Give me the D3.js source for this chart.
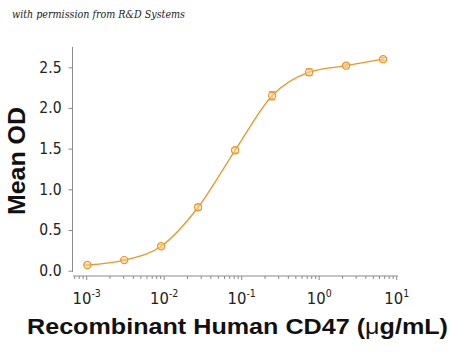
<!DOCTYPE html>
<html>
<head>
<meta charset="utf-8">
<script src="https://cdn.jsdelivr.net/npm/d3@7"></script>
<style>
  body { margin: 0; background: #fff; }
  svg { display: block; }
</style>
</head>
<body>
<div id="chart"></div>
<script>
'use strict';

// Data: concentration (ug/mL), mean OD, error (+/-)
var conc = [0.00102, 0.00305, 0.00914, 0.0274, 0.0823, 0.247, 0.741, 2.22, 6.67]
var meanOD = [0.07, 0.13, 0.30, 0.78, 1.48, 2.15, 2.44, 2.52, 2.60]
var errOD = [0.01, 0.01, 0.02, 0.03, 0.03, 0.05, 0.04, 0.02, 0.02]
var yTicks = [0, 0.5, 1.0, 1.5, 2.0, 2.5]
var xTicks = [1e-3, 1e-2, 1e-1, 1e0, 1e1]
var xTickExp = ['-3', '-2', '-1', '0', '1']

var width = 450, height = 354
var color = '#E8982A'
var axisColor = '#8a8a8a'
var tickFont = '"Liberation Sans Narrow", "DejaVu Sans Condensed", sans-serif'

var data = conc.map(function(c, i) {
  return {conc: c, od: meanOD[i], err: errOD[i]}
})

// Setup: scales
var x = d3.scaleLog()
  .domain([1e-3, 10])
  .range([86.7, 396.7])

var y = d3.scaleLinear()
  .domain([0, 2.5])
  .range([270.7, 67.3])

var svg = d3.select('#chart').append('svg')
  .attr('width', width)
  .attr('height', height)

// Watermark
svg.append('text')
  .attr('x', 12)
  .attr('y', 18)
  .attr('font-family', '"DejaVu Serif", serif')
  .attr('font-style', 'italic')
  .attr('font-size', 10.5)
  .attr('textLength', 173)
  .attr('lengthAdjust', 'spacingAndGlyphs')
  .attr('fill', '#222')
  .text('with permission from R&D Systems')

// Y axis
var yAxis = d3.axisLeft(y)
  .tickValues(yTicks)
  .tickFormat(d3.format('.1f'))
  .tickSize(4)
  .tickPadding(7)

var yAxisX = 72.5
var gy = svg.append('g')
  .attr('transform', 'translate(' + yAxisX + ',0)')
  .call(yAxis)
gy.select('.domain').remove()
gy.append('line')
  .attr('x1', 0).attr('x2', 0)
  .attr('y1', y(2.75)).attr('y2', y(-0.015))
  .attr('stroke', axisColor)
gy.selectAll('.tick line').attr('stroke', axisColor)
gy.selectAll('.tick text')
  .attr('fill', '#222')
  .attr('font-family', tickFont)
  .attr('font-size', 15.5)

// X axis (log, with minor ticks)
var xAxisY = 276
var xMin = x.invert(73), xMax = x.invert(398)
var minor = []
for (var k = -4; k <= 1; k++) {
  for (var m = 2; m <= 9; m++) {
    var v = m * Math.pow(10, k)
    if (v >= xMin && v <= xMax) minor.push(v)
  }
}

var gx = svg.append('g')
  .attr('transform', 'translate(0,' + xAxisY + ')')
gx.append('line')
  .attr('x1', x(xMin)).attr('x2', x(xMax))
  .attr('stroke', axisColor)
gx.selectAll('.minor')
  .data(minor)
  .enter().append('line')
    .attr('class', 'minor')
    .attr('x1', function(d) { return x(d) })
    .attr('x2', function(d) { return x(d) })
    .attr('y1', 0).attr('y2', 3)
    .attr('stroke', axisColor)
var major = gx.selectAll('.major')
  .data(xTicks)
  .enter().append('g')
    .attr('class', 'major')
    .attr('transform', function(d) { return 'translate(' + x(d) + ',0)' })
major.append('line')
  .attr('y1', 0).attr('y2', 4)
  .attr('stroke', axisColor)
var lab = major.append('text')
  .attr('y', 28)
  .attr('text-anchor', 'middle')
  .attr('fill', '#222')
  .attr('font-family', tickFont)
  .attr('font-size', 16.5)
lab.append('tspan').text('10')
lab.append('tspan')
  .attr('dy', -7)
  .attr('font-size', 10.5)
  .text(function(d, i) { return xTickExp[i] })

// Axis titles
svg.append('text')
  .attr('transform', 'translate(25,161) rotate(-90)')
  .attr('text-anchor', 'middle')
  .attr('font-family', '"Liberation Sans", Arial, sans-serif')
  .attr('font-weight', 'bold')
  .attr('font-size', 24.5)
  .attr('textLength', 108)
  .attr('lengthAdjust', 'spacingAndGlyphs')
  .attr('fill', '#111')
  .text('Mean OD')

var xTitle = svg.append('text')
  .attr('x', 237.5)
  .attr('y', 334)
  .attr('text-anchor', 'middle')
  .attr('font-family', '"Liberation Sans", Arial, sans-serif')
  .attr('font-weight', 'bold')
  .attr('font-size', 21.5)
  .attr('textLength', 421)
  .attr('lengthAdjust', 'spacingAndGlyphs')
  .attr('fill', '#111')
xTitle.append('tspan').text('Recombinant Human CD47 (')
xTitle.append('tspan').attr('font-weight', 'normal').text('\u03bc')
xTitle.append('tspan').text('g/mL)')

// Fitted curve
var line = d3.line()
  .x(function(d) { return x(d.conc) })
  .y(function(d) { return y(d.od) })
  .curve(d3.curveMonotoneX)
svg.append('path')
  .datum(data)
  .attr('fill', 'none')
  .attr('stroke', color)
  .attr('stroke-width', 1.3)
  .attr('d', line)

// Error bars
var eb = svg.selectAll('.err')
  .data(data)
  .enter().append('g')
    .attr('class', 'err')
    .attr('stroke', color)
    .attr('stroke-width', 1.1)
eb.append('line')
  .attr('x1', function(d) { return x(d.conc) })
  .attr('x2', function(d) { return x(d.conc) })
  .attr('y1', function(d) { return y(d.od - d.err) })
  .attr('y2', function(d) { return y(d.od + d.err) })
eb.append('line')
  .attr('x1', function(d) { return x(d.conc) - 3.5 })
  .attr('x2', function(d) { return x(d.conc) + 3.5 })
  .attr('y1', function(d) { return y(d.od + d.err) })
  .attr('y2', function(d) { return y(d.od + d.err) })
eb.append('line')
  .attr('x1', function(d) { return x(d.conc) - 3.5 })
  .attr('x2', function(d) { return x(d.conc) + 3.5 })
  .attr('y1', function(d) { return y(d.od - d.err) })
  .attr('y2', function(d) { return y(d.od - d.err) })

// Dots
svg.selectAll('.dot')
  .data(data)
  .enter().append('circle')
    .attr('class', 'dot')
    .attr('cx', function(d) { return x(d.conc) })
    .attr('cy', function(d) { return y(d.od) })
    .attr('r', 3.6)
    .attr('fill', '#fbe3bd')
    .attr('fill-opacity', 0.5)
    .attr('stroke', color)
    .attr('stroke-width', 1.2)
</script>
</body>
</html>
